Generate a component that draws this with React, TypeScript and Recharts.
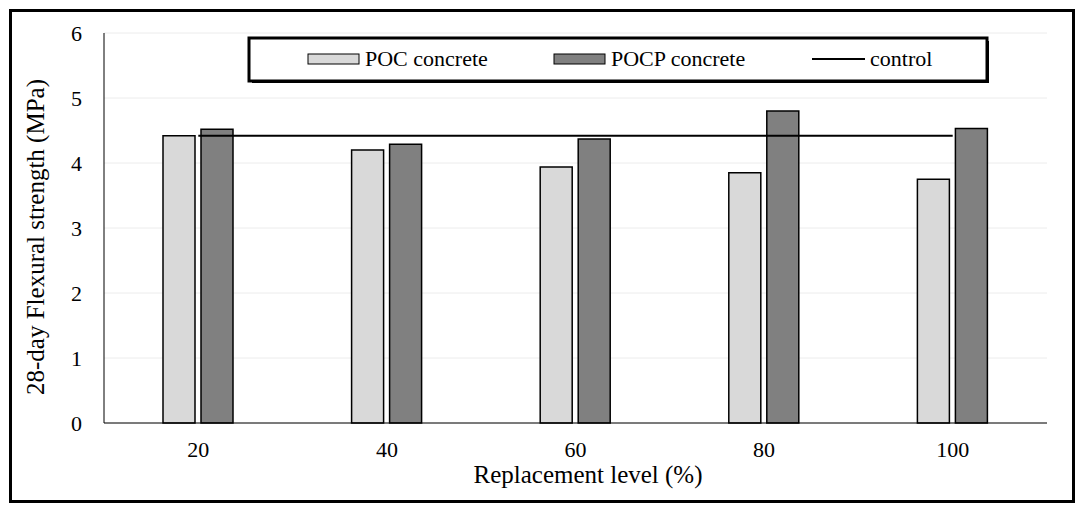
import React from 'react';
import { ComposedChart, Bar, Line, XAxis, YAxis, CartesianGrid, Label } from 'recharts';

const categories = ['20', '40', '60', '80', '100'];
const pocValues = [4.42, 4.2, 3.94, 3.85, 3.75];
const pocpValues = [4.52, 4.29, 4.37, 4.8, 4.53];
const controlValues = [4.42, 4.42, 4.42, 4.42, 4.42];
const yTicks = [0, 1, 2, 3, 4, 5, 6];

const data = categories.map((level, i) => ({
  level,
  poc: pocValues[i],
  pocp: pocpValues[i],
  control: controlValues[i],
}));

const FONT = "'Liberation Serif', 'Times New Roman', serif";

// legend drawn as an svg overlay so it uses the same text rendering as the axes
const ChartLegend = () => (
  <svg
    width={744}
    height={49}
    style={{ position: 'absolute', left: 235, top: 24, overflow: 'visible' }}
  >
    <rect x={2} y={2} width={738} height={43} fill="#fff" stroke="#000" strokeWidth={3} />
    <rect x={5} y={46} width={737} height={1} fill="#000" />
    <rect x={741} y={5} width={1} height={42} fill="#000" />
    <rect x={61} y={18} width={51} height={10} fill="#d9d9d9" stroke="#000" strokeWidth={1} />
    <text x={118} y={30} style={{ fontFamily: FONT }} fontSize={22} fill="#000">
      POC concrete
    </text>
    <rect x={307} y={18} width={51} height={10} fill="#808080" stroke="#000" strokeWidth={1} />
    <text x={364} y={30} style={{ fontFamily: FONT }} fontSize={22} fill="#000">
      POCP concrete
    </text>
    <rect x={565} y={22} width={53} height={2} fill="#000" />
    <text x={623} y={30} style={{ fontFamily: FONT }} fontSize={22} fill="#000">
      control
    </text>
  </svg>
);

export default function App() {
  return (
    <div
      style={{
        boxSizing: 'border-box',
        position: 'relative',
        marginLeft: 1,
        marginTop: 1,
        width: 1066,
        height: 494,
        border: '3px solid #000',
        background: '#fff',
        fontFamily: FONT,
      }}
    >
      <ComposedChart
        width={1060}
        height={488}
        data={data}
        margin={{ top: 21, right: 25, bottom: 47, left: 32 }}
        barSize={32}
        barGap={6}
        style={{ fontFamily: FONT }}
      >
        <CartesianGrid vertical={false} stroke="#ececec" />
        <XAxis
          dataKey="level"
          height={30}
          axisLine={{ stroke: '#000' }}
          tickLine={false}
          tick={{ fill: '#000', fontSize: 22, style: { fontFamily: FONT } }}
          tickMargin={12}
        >
          <Label
            content={() => (
              <text x={576} y={471} textAnchor="middle" style={{ fontFamily: FONT }} fontSize={25} fill="#000">
                Replacement level (%)
              </text>
            )}
          />
        </XAxis>
        <YAxis
          domain={[0, 6]}
          ticks={yTicks}
          width={60}
          axisLine={{ stroke: '#000' }}
          tickLine={false}
          tick={{ fill: '#000', fontSize: 22, style: { fontFamily: FONT } }}
          tickMargin={16}
        >
          <Label
            content={() => (
              <text
                x={26}
                y={225}
                textAnchor="middle"
                dominantBaseline="middle"
                transform="rotate(-90 26 225)"
                style={{ fontFamily: FONT }}
                fontSize={25}
                fill="#000"
              >
                28-day Flexural strength (MPa)
              </text>
            )}
          />
        </YAxis>
        <Bar dataKey="poc" name="POC concrete" fill="#d9d9d9" stroke="#000" strokeWidth={1.5} isAnimationActive={false} />
        <Bar dataKey="pocp" name="POCP concrete" fill="#808080" stroke="#000" strokeWidth={1.5} isAnimationActive={false} />
        <Line
          dataKey="control"
          name="control"
          type="linear"
          stroke="#000"
          strokeWidth={2}
          dot={false}
          activeDot={false}
          isAnimationActive={false}
        />
      </ComposedChart>
      <ChartLegend />
    </div>
  );
}
